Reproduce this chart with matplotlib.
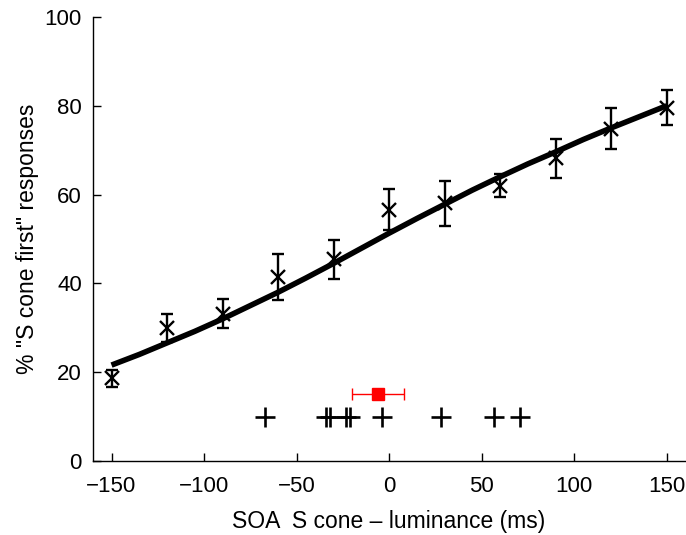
import matplotlib

matplotlib.use("Agg")
import matplotlib.pyplot as plt

plt.rcParams["font.family"] = ["Liberation Sans", "DejaVu Sans"]

# mean responses per SOA, with error bars
soa = [-150, -120, -90, -60, -30, 0, 30, 60, 90, 120, 150]
pct = [18.6, 30.0, 33.2, 41.4, 45.4, 56.6, 58.0, 62.0, 68.2, 74.8, 79.6]
err = [1.9, 3.2, 3.2, 5.2, 4.4, 4.6, 5.0, 2.6, 4.4, 4.6, 4.0]

# fitted psychometric curve, sampled every 15 ms
fit_x = [-150, -135, -120, -105, -90, -75, -60, -45, -30, -15, 0,
         15, 30, 45, 60, 75, 90, 105, 120, 135, 150]
fit_y = [21.6, 24.0, 26.6, 29.2, 32.0, 35.0, 38.0, 41.2, 44.5, 47.9, 51.3,
         54.6, 57.8, 61.0, 64.0, 66.9, 69.6, 72.4, 75.0, 77.5, 80.0]

# individual observers' PSEs and the group mean
pse_x = [-67, -34, -32, -23, -21, -4, 28, 57, 71]
pse_y = [10] * len(pse_x)
mean_pse = -6
mean_pse_err = 14
mean_pse_y = 15

fig = plt.figure(figsize=(6.86, 5.35), dpi=100)
ax = fig.add_axes([0.1356, 0.1383, 0.8630, 0.8300])

ax.plot(fit_x, fit_y, color="black", lw=4.0, solid_capstyle="butt", zorder=2)
ax.errorbar(soa, pct, yerr=err, fmt="x", color="black", ms=9.5, mew=1.7,
            elinewidth=1.7, capsize=4, capthick=1.7, zorder=3)
ax.plot(pse_x, pse_y, "+", color="black", ms=14, mew=1.9, ls="none")
ax.errorbar([mean_pse], [mean_pse_y], xerr=[mean_pse_err], fmt="s",
            color="red", ms=8, elinewidth=1.0, capsize=4, capthick=1.0)

ax.set_xlim(-160, 160)
ax.set_ylim(0, 100)
ax.set_xticks([-150, -100, -50, 0, 50, 100, 150])
ax.set_yticks([0, 20, 40, 60, 80, 100])
for side in ("top", "right"):
    ax.spines[side].set_visible(False)
for side in ("left", "bottom"):
    ax.spines[side].set_linewidth(1.0)
ax.tick_params(direction="in", length=6, width=1.0, labelsize=16)
ax.tick_params(axis="x", pad=11)
ax.tick_params(axis="y", pad=8)

ax.set_xlabel("SOA  S cone \u2013 luminance (ms)", fontsize=16.5, labelpad=9)
ax.set_ylabel('% "S cone first" responses', fontsize=16.5, labelpad=4)

fig.savefig("out.png", dpi=100)
plt.close(fig)
